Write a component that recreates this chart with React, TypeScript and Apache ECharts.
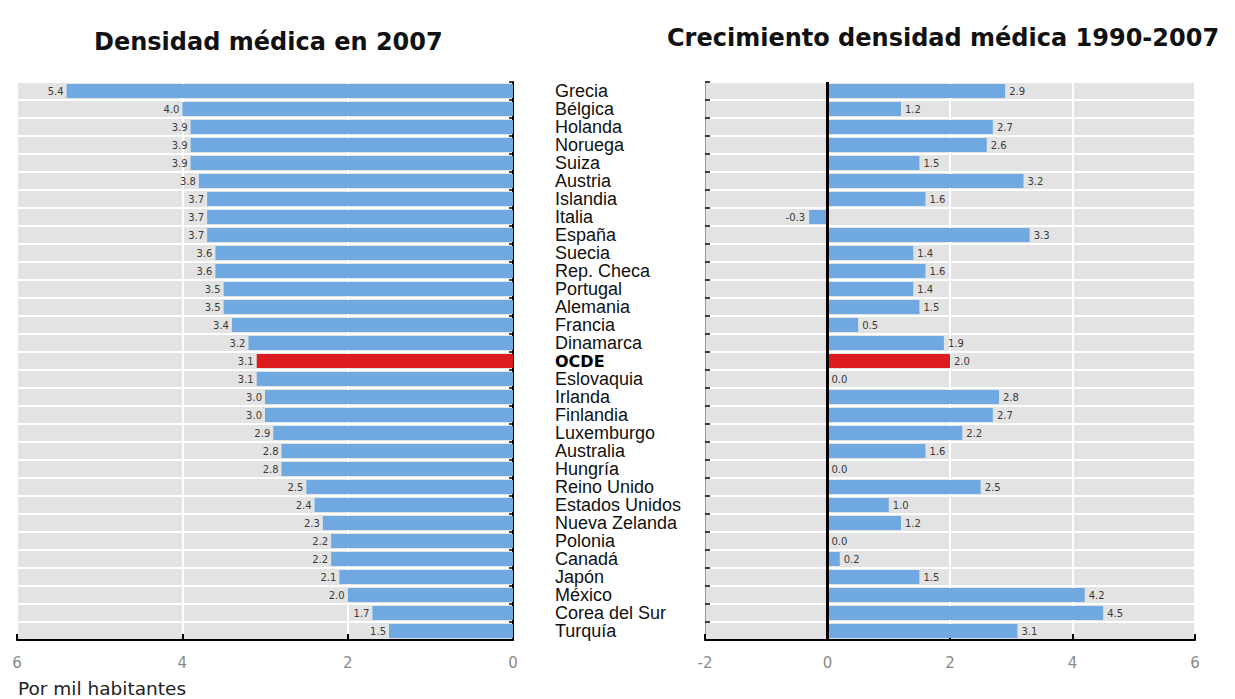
import React, { useEffect, useRef } from "react";
import * as echarts from "echarts";

const countries = [
  "Grecia", "Bélgica", "Holanda", "Noruega", "Suiza", "Austria", "Islandia", "Italia",
  "España", "Suecia", "Rep. Checa", "Portugal", "Alemania", "Francia", "Dinamarca", "OCDE",
  "Eslovaquia", "Irlanda", "Finlandia", "Luxemburgo", "Australia", "Hungría", "Reino Unido",
  "Estados Unidos", "Nueva Zelanda", "Polonia", "Canadá", "Japón", "México", "Corea del Sur", "Turquía",
];

const density2007 = [
  5.4, 4.0, 3.9, 3.9, 3.9, 3.8, 3.7, 3.7, 3.7, 3.6, 3.6, 3.5, 3.5, 3.4, 3.2, 3.1,
  3.1, 3.0, 3.0, 2.9, 2.8, 2.8, 2.5, 2.4, 2.3, 2.2, 2.2, 2.1, 2.0, 1.7, 1.5,
];

const growth19902007 = [
  2.9, 1.2, 2.7, 2.6, 1.5, 3.2, 1.6, -0.3, 3.3, 1.4, 1.6, 1.4, 1.5, 0.5, 1.9, 2.0,
  0.0, 2.8, 2.7, 2.2, 1.6, 0.0, 2.5, 1.0, 1.2, 0.0, 0.2, 1.5, 4.2, 4.5, 3.1,
];

const leftTicks = { min: 0, max: 6, interval: 2 };
const rightTicks = { min: -2, max: 6, interval: 2 };

const highlight = "OCDE";
const BLUE = "#70a9e1";
const RED = "#de1b1f";
const GRAY_BG = "#e3e3e3";

export default function App() {
  const ref = useRef<HTMLDivElement>(null);

  useEffect(() => {
    if (!ref.current) return;
    const chart = echarts.init(ref.current, null, { renderer: "svg" });

    const tickLabel = {
      color: "#8a8a8a",
      fontSize: 15,
      fontFamily: "DejaVu Sans",
      margin: 15,
    };

    const mkData = (vals: number[]) =>
      vals.map((v, i) => {
        const item: any = { value: v };
        if (countries[i] === highlight) item.itemStyle = { color: RED };
        return item;
      });

    const rightData = growth19902007.map((v, i) => {
      const item: any = { value: v };
      if (countries[i] === highlight) item.itemStyle = { color: RED };
      if (v < 0) item.label = { position: "left" };
      return item;
    });

    const valueLabel = {
      show: true,
      fontSize: 10,
      fontFamily: "DejaVu Sans",
      color: "#3a3a3a",
      formatter: (p: any) => Number(p.value).toFixed(1),
    };

    const titleStyle = { fontFamily: "DejaVu Sans", fontWeight: "bold", fontSize: 24, color: "#111" };

    chart.setOption({
      animation: false,
      backgroundColor: "#ffffff",
      title: [
        { text: "Densidad médica en 2007", left: 89, top: 25, textStyle: titleStyle },
        { text: "Crecimiento densidad médica 1990-2007", left: 662, top: 21, textStyle: titleStyle },
      ],
      graphic: [
        {
          type: "text",
          left: 18,
          top: 679,
          style: { text: "Por mil habitantes", fontFamily: "DejaVu Sans", fontSize: 18.5, fill: "#222" },
        },
      ],
      grid: [
        { left: 17, top: 82, width: 496, height: 558, show: true, backgroundColor: GRAY_BG, borderWidth: 0 },
        { left: 705, top: 82, width: 490, height: 558, show: true, backgroundColor: GRAY_BG, borderWidth: 0 },
      ],
      xAxis: [
        {
          gridIndex: 0,
          type: "value",
          inverse: true,
          min: leftTicks.min,
          max: leftTicks.max,
          interval: leftTicks.interval,
          axisLine: { show: true, lineStyle: { color: "#000", width: 2 } },
          axisTick: { show: true, inside: true, length: 6, lineStyle: { color: "#000", width: 2 } },
          axisLabel: tickLabel,
          splitLine: { show: true, lineStyle: { color: "#ffffff", width: 2 } },
        },
        {
          gridIndex: 1,
          type: "value",
          min: rightTicks.min,
          max: rightTicks.max,
          interval: rightTicks.interval,
          axisLine: { show: true, onZero: false, lineStyle: { color: "#000", width: 2 } },
          axisTick: { show: true, inside: true, length: 6, lineStyle: { color: "#000", width: 2 } },
          axisLabel: tickLabel,
          splitLine: { show: true, lineStyle: { color: "#ffffff", width: 2 } },
        },
      ],
      yAxis: [
        {
          gridIndex: 0,
          type: "category",
          data: countries,
          inverse: true,
          position: "right",
          axisLine: { show: true, lineStyle: { color: "#000", width: 2 } },
          axisTick: { show: true, inside: true, length: 4, lineStyle: { color: "#000", width: 1.5 } },
          axisLabel: { show: false },
          splitLine: { show: true, lineStyle: { color: "#ffffff", width: 2 } },
        },
        {
          gridIndex: 1,
          type: "category",
          data: countries,
          inverse: true,
          position: "left",
          axisLine: { show: true, onZero: false, lineStyle: { color: "#999", width: 1 } },
          axisTick: { show: true, inside: true, length: 5, lineStyle: { color: "#000", width: 1.5 } },
          axisLabel: {
            show: true,
            interval: 0,
            align: "left",
            margin: 150,
            fontSize: 18,
            fontFamily: "Liberation Sans",
            color: "#111",
            formatter: (v: string) => (v === highlight ? "{b|" + v + "}" : v),
            rich: {
              b: { fontFamily: "DejaVu Sans", fontWeight: "bold", fontSize: 16, color: "#000" },
            },
          },
          splitLine: { show: true, lineStyle: { color: "#ffffff", width: 2 } },
        },
      ],
      series: [
        {
          type: "bar",
          xAxisIndex: 0,
          yAxisIndex: 0,
          data: mkData(density2007),
          barWidth: 14,
          itemStyle: { color: BLUE },
          label: { ...valueLabel, position: "left", distance: 3 },
        },
        {
          type: "bar",
          xAxisIndex: 1,
          yAxisIndex: 1,
          data: rightData,
          barWidth: 14,
          itemStyle: { color: BLUE },
          label: { ...valueLabel, position: "right", distance: 4 },
          markLine: {
            silent: true,
            symbol: ["none", "none"],
            label: { show: false },
            lineStyle: { color: "#000", width: 3, type: "solid" },
            data: [{ xAxis: 0 }],
          },
        },
      ],
    });

    return () => chart.dispose();
  }, []);

  return (
    <div
      ref={ref}
      style={{ position: "fixed", left: 0, top: 0, width: 1235, height: 699, background: "#fff" }}
    />
  );
}
